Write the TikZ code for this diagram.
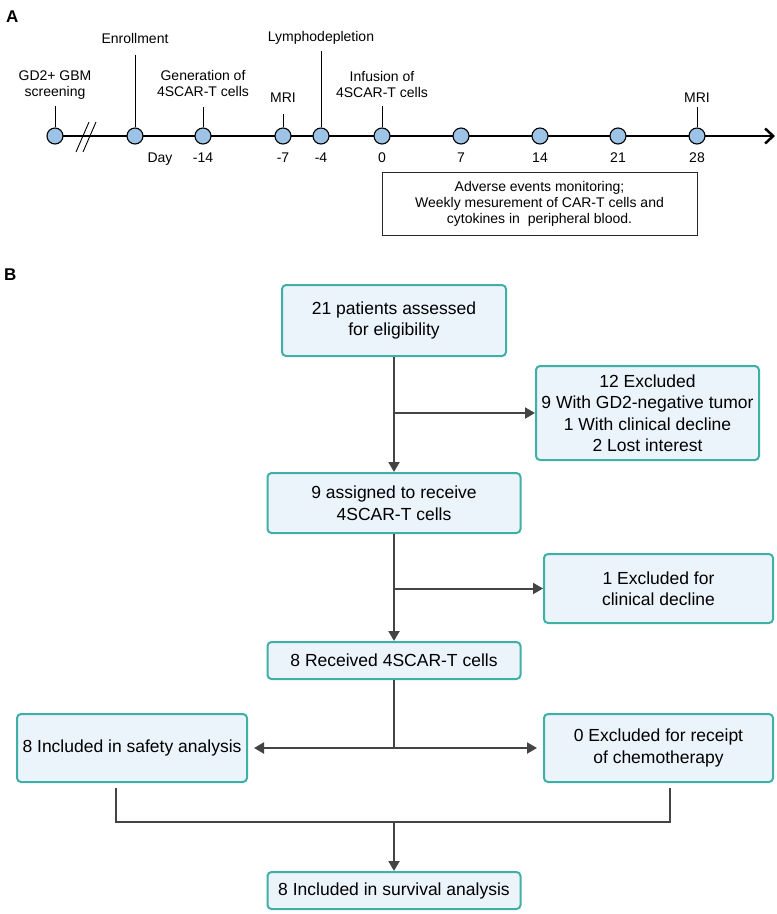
\documentclass[tikz,border=0pt]{standalone}
\usepackage{fontspec}
\setmainfont{Liberation Sans}
\usetikzlibrary{arrows.meta,positioning}

\definecolor{dotblue}{RGB}{157,195,230}
\definecolor{boxteal}{RGB}{62,176,166}
\definecolor{boxfill}{RGB}{235,243,251}
\definecolor{linegray}{RGB}{68,68,68}

\tikzset{
  dot/.style={circle, draw=black, line width=1.1pt, fill=dotblue, minimum size=16pt, inner sep=0pt},
  tlabel/.style={align=center, inner sep=0pt, text depth=0pt, font=\fontsize{14}{16}\selectfont},
  daylabel/.style={anchor=base, inner sep=0pt, font=\fontsize{14}{16}\selectfont},
  flowbox/.style={draw=boxteal, line width=2pt, fill=boxfill, rounded corners=4pt, align=center,
    inner sep=2pt, font=\fontsize{17.5}{21.5}\selectfont},
  flowline/.style={draw=linegray, line width=2pt},
  flowarrow/.style={flowline, -{Triangle[length=10pt,width=11pt]}},
}

\begin{document}
\begin{tikzpicture}[x=1pt,y=-1pt]
\useasboundingbox (0,0) rectangle (777,914);

% A: timeline
\node[anchor=base west, inner sep=0pt, font=\fontsize{17}{20}\selectfont\bfseries] (panA) at (6,22) {A};
\coordinate (tstart) at (55,136);
\coordinate (tend) at (775,136);
\draw[line width=2pt, -{Straight Barb[length=8pt,width=15pt,line width=2.5pt]}] (tstart) -- (tend);
\draw[line width=0.9pt] (76,152) -- (89,122) (83,152) -- (96,122);
\foreach \x/\n in {55/scr,135/enr,203/m14,283/m7,321/m4,382/d0,461/d7,540/d14,618/d21,697/d28}
    \node[dot] (\n) at (\x,136) {};

\draw[line width=1pt] (scr.north) -- ++(0,-21) node[tlabel, above=9pt] (scrlbl) {GD2+ GBM\\screening};
\draw[line width=1pt] (enr.north) -- ++(0,-72) node[tlabel, above=11pt] (enrlbl) {Enrollment};
\draw[line width=1pt] (m14.north) -- ++(0,-20) node[tlabel, above=10pt] (genlbl) {Generation of\\4SCAR-T cells};
\draw[line width=1pt] (m7.north) -- ++(0,-13) node[tlabel, above=11pt] (mrilbl) {MRI};
\draw[line width=1pt] (m4.north) -- ++(0,-76) node[tlabel, above=9pt] (lymlbl) {Lymphodepletion};
\draw[line width=1pt] (d0.north) -- ++(0,-21) node[tlabel, above=8pt] (inflbl) {Infusion of\\4SCAR-T cells};
\draw[line width=1pt] (d28.north) -- ++(0,-20) node[tlabel, above=4pt] (mrilbltwo) {MRI};

\node[daylabel] (daylbl) at (160,162) {Day};
\foreach \n/\d in {m14/-14,m7/-7,m4/-4,d0/0,d7/7,d14/14,d21/21,d28/28}
    \node[daylabel] at (\n |- daylbl.base) {\d};

\node[draw=black!85, line width=1pt, minimum width=315pt, minimum height=63pt, align=center,
  font=\fontsize{14}{16}\selectfont] (monitor) at (539.5,203.5)
  {Adverse events monitoring;\\Weekly mesurement of CAR-T cells and\\cytokines in\ \ peripheral blood.};

% B: flow chart
\node[anchor=base west, inner sep=0pt, font=\fontsize{17}{20}\selectfont\bfseries] (panB) at (4,280) {B};
\node[flowbox, minimum width=224pt, minimum height=71pt] (assess) at (394,320.5) {21 patients assessed\\for eligibility};
\node[flowbox, minimum width=223pt, minimum height=94pt] (exclA) at (647.5,413) {12 Excluded\\9 With GD2-negative tumor\\1 With clinical decline\\2 Lost interest};
\node[flowbox, minimum width=253pt, minimum height=60pt] (assign) at (394,503) {9 assigned to receive\\4SCAR-T cells};
\node[flowbox, minimum width=229pt, minimum height=69pt] (exclB) at (658.5,588.5) {1 Excluded for\\clinical decline};
\node[flowbox, minimum width=253pt, minimum height=37pt] (recv) at (394,660.5) {8 Received 4SCAR-T cells};
\node[flowbox, minimum width=230pt, minimum height=68pt] (safety) at (132,748) {8 Included in safety analysis};
\node[flowbox, minimum width=229pt, minimum height=68pt] (exclC) at (658.5,748) {0 Excluded for receipt\\of chemotherapy};
\node[flowbox, minimum width=253pt, minimum height=37pt] (surv) at (394,890.5) {8 Included in survival analysis};

\draw[flowarrow] (assess) -- (assign);
\draw[flowarrow] (assess.south |- exclA.west) -- (exclA.west);
\draw[flowarrow] (assign) -- (recv);
\draw[flowarrow] (assign.south |- exclB.west) -- (exclB.west);
\draw[flowline] (recv.south) -- (recv.south |- safety.east);
\draw[flowarrow] (recv.south |- safety.east) -- ([xshift=6pt]safety.east);
\draw[flowarrow] (recv.south |- exclC.west) -- ([xshift=-6pt]exclC.west);
\coordinate (merge) at (394,822);
\draw[flowline] ([xshift=-16pt,yshift=-5pt]safety.south) |- (merge) -| ([xshift=11.5pt,yshift=-5pt]exclC.south);
\draw[flowarrow] (merge) -- (surv);
\end{tikzpicture}
\end{document}
